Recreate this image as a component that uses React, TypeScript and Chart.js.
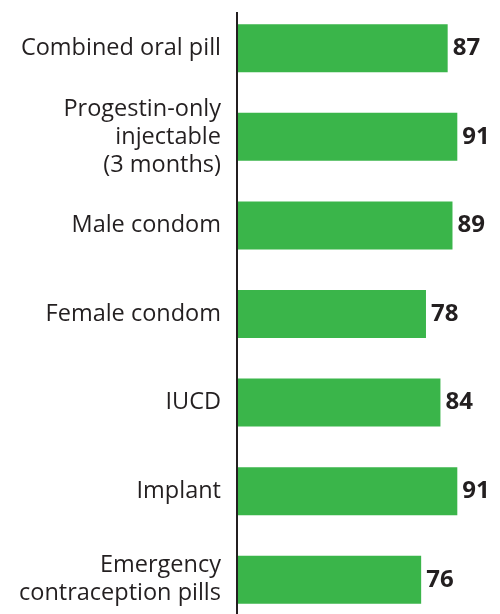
import React, { useEffect, useRef } from "react";
import { Chart, registerables } from "chart.js";

Chart.register(...registerables);

const categories: (string | string[])[] = [
  "Combined oral pill",
  ["Progestin-only", "injectable", "(3 months)"],
  "Male condom",
  "Female condom",
  "IUCD",
  "Implant",
  ["Emergency", "contraception pills"],
];
const values = [87, 91, 89, 78, 84, 91, 76];

const GREEN = "#3ab54a";
const DARK = "#231f20";
const FONT = "'Open Sans', 'DejaVu Sans', sans-serif";

export default function App() {
  const ref = useRef<HTMLCanvasElement | null>(null);

  useEffect(() => {
    if (!ref.current) return;
    const valuePlugin = {
      id: "valueLabels",
      afterDatasetsDraw(chart: any) {
        const ctx = chart.ctx;
        const meta = chart.getDatasetMeta(0);
        ctx.save();
        ctx.fillStyle = DARK;
        ctx.font = `bold 24px ${FONT}`;
        ctx.textAlign = "left";
        ctx.textBaseline = "middle";
        meta.data.forEach((bar: any, i: number) => {
          ctx.fillText(String(values[i]), bar.x + 5, bar.y);
        });
        ctx.restore();
      },
    };
    const axisPlugin = {
      id: "axisLine",
      afterDraw(chart: any) {
        const ctx = chart.ctx;
        const a = chart.chartArea;
        ctx.save();
        ctx.strokeStyle = DARK;
        ctx.lineWidth = 2;
        ctx.beginPath();
        ctx.moveTo(a.left - 1, a.top + 8);
        ctx.lineTo(a.left - 1, chart.height);
        ctx.stroke();
        ctx.restore();
      },
    };
    const chart = new Chart(ref.current, {
      type: "bar",
      data: {
        labels: categories,
        datasets: [
          {
            data: values,
            backgroundColor: GREEN,
            borderWidth: 0,
            barPercentage: 0.542,
            categoryPercentage: 1,
          },
        ],
      },
      options: {
        indexAxis: "y",
        animation: false,
        responsive: false,
        maintainAspectRatio: false,
        layout: { padding: { top: 4, right: 21, bottom: 0, left: 0 } },
        plugins: { legend: { display: false }, tooltip: { enabled: false } },
        scales: {
          x: {
            display: false,
            min: 0,
            max: 100,
          },
          y: {
            grid: { display: false },
            border: { display: false },
            ticks: {
              color: DARK,
              padding: 9,
              font: { family: FONT, size: 23.5, lineHeight: 1.19 },
            },
            afterFit(scale: any) {
              scale.width = 238;
              scale.paddingTop = 0;
              scale.paddingBottom = 0;
            },
          },
        },
      },
      plugins: [valuePlugin, axisPlugin],
    });
    return () => chart.destroy();
  }, []);

  return (
    <div style={{ position: "fixed", left: 0, top: 0, width: 500, height: 624, background: "#fff" }}>
      <canvas ref={ref} width={500} height={624} style={{ display: "block" }} />
    </div>
  );
}
